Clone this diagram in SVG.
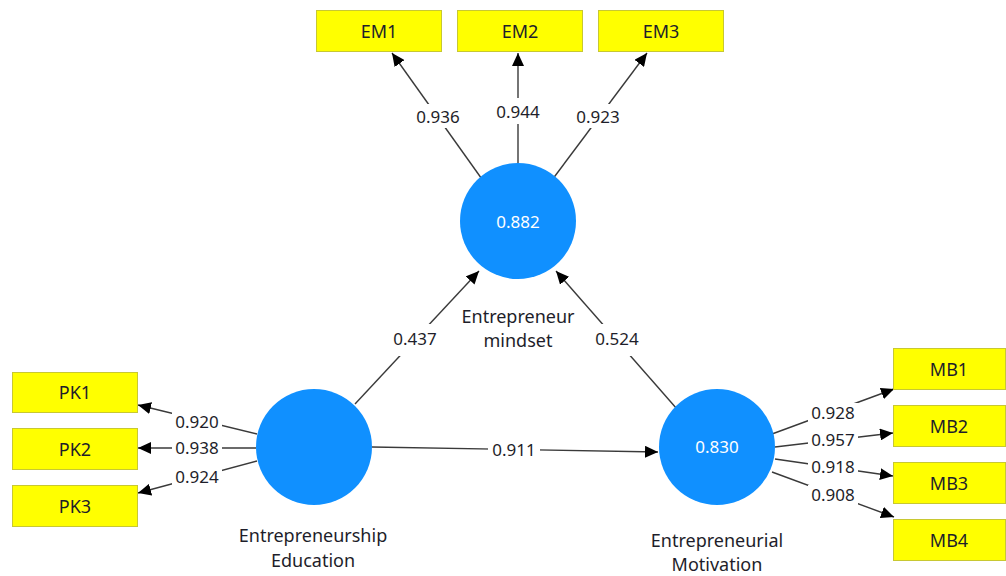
<svg xmlns="http://www.w3.org/2000/svg" width="1006" height="576" viewBox="0 0 1006 576">
<defs>
<marker id="ah" markerUnits="userSpaceOnUse" markerWidth="14" markerHeight="12" refX="13" refY="6" orient="auto">
<path d="M0,0 L13,6 L0,12 z" fill="#000"/>
</marker>
<style>
.ln{stroke:#3a3a3a;stroke-width:1.4;fill:none;marker-end:url(#ah)}
.box{fill:#ffff00;stroke:#c8c832;stroke-width:1}
.lv{fill:#1090ff}
.t{font-family:"Noto Sans","Open Sans","DejaVu Sans",sans-serif;font-size:17px;fill:#1e1e2a;text-anchor:middle}
.n{font-size:18px}
.w{fill:#ffffff}
.bg{fill:#ffffff}
</style>
</defs>
<rect width="1006" height="576" fill="#ffffff"/>
<g id="connectors">
<line class="ln" x1="484" y1="182" x2="392" y2="53"/>
<line class="ln" x1="518" y1="163" x2="518" y2="53"/>
<line class="ln" x1="552" y1="180" x2="647" y2="53"/>
<line class="ln" x1="257" y1="434" x2="138" y2="405"/>
<line class="ln" x1="256" y1="448" x2="138" y2="448"/>
<line class="ln" x1="257" y1="461" x2="138" y2="493"/>
<line class="ln" x1="772" y1="434" x2="894" y2="389"/>
<line class="ln" x1="775" y1="447" x2="893" y2="433"/>
<line class="ln" x1="775" y1="459" x2="893" y2="476"/>
<line class="ln" x1="772" y1="472" x2="894" y2="517"/>
<line class="ln" x1="355" y1="404" x2="479" y2="271"/>
<line class="ln" x1="677" y1="409" x2="556" y2="271"/>
<line class="ln" x1="372" y1="447" x2="658" y2="452"/>
<g id="connector-labels">
<rect class="bg" x="413" y="104" width="50" height="24"/><text class="t" x="438" y="123">0.936</text>
<rect class="bg" x="493" y="98" width="50" height="26"/><text class="t" x="518" y="118">0.944</text>
<rect class="bg" x="573" y="104" width="50" height="24"/><text class="t" x="598" y="123">0.923</text>
<rect class="bg" x="172" y="412" width="50" height="20"/><text class="t" x="197" y="428">0.920</text>
<rect class="bg" x="172" y="438" width="50" height="20"/><text class="t" x="197" y="454">0.938</text>
<rect class="bg" x="172" y="467" width="50" height="20"/><text class="t" x="197" y="483">0.924</text>
<rect class="bg" x="808" y="403" width="50" height="20"/><text class="t" x="833" y="419">0.928</text>
<rect class="bg" x="808" y="430" width="50" height="20"/><text class="t" x="833" y="446">0.957</text>
<rect class="bg" x="808" y="457" width="50" height="20"/><text class="t" x="833" y="473">0.918</text>
<rect class="bg" x="808" y="485" width="50" height="20"/><text class="t" x="833" y="501">0.908</text>
<rect class="bg" x="390" y="324" width="50" height="32"/><text class="t" x="415" y="345">0.437</text>
<rect class="bg" x="592" y="324" width="50" height="32"/><text class="t" x="617" y="345">0.524</text>
<rect class="bg" x="488" y="440" width="52" height="22"/><text class="t" x="514" y="456">0.911</text>
</g>
</g>
<g id="EM1"><rect class="box" x="316.5" y="10.5" width="125" height="41"/><text class="t n" x="379" y="38">EM1</text></g>
<g id="EM2"><rect class="box" x="457.5" y="10.5" width="125" height="41"/><text class="t n" x="520" y="38">EM2</text></g>
<g id="EM3"><rect class="box" x="598.5" y="10.5" width="125" height="41"/><text class="t n" x="661" y="38">EM3</text></g>
<g id="PK1"><rect class="box" x="12.5" y="372.5" width="125" height="40"/><text class="t n" x="75" y="399">PK1</text></g>
<g id="PK2"><rect class="box" x="12.5" y="428.5" width="125" height="41"/><text class="t n" x="75" y="456">PK2</text></g>
<g id="PK3"><rect class="box" x="12.5" y="485.5" width="125" height="41"/><text class="t n" x="75" y="513">PK3</text></g>
<g id="MB1"><rect class="box" x="893.5" y="348.5" width="112" height="41"/><text class="t n" x="949" y="376">MB1</text></g>
<g id="MB2"><rect class="box" x="893.5" y="405.5" width="112" height="41"/><text class="t n" x="949" y="433">MB2</text></g>
<g id="MB3"><rect class="box" x="893.5" y="462.5" width="112" height="41"/><text class="t n" x="949" y="490">MB3</text></g>
<g id="MB4"><rect class="box" x="893.5" y="519.5" width="112" height="41"/><text class="t n" x="949" y="547">MB4</text></g>
<g id="EntrepreneurMindset">
<circle class="lv" cx="518" cy="221" r="58"/>
<text class="t w" x="518" y="228">0.882</text>
<text class="t n" x="518" y="323">Entrepreneur</text>
<text class="t n" x="518" y="347">mindset</text>
</g>
<g id="EntrepreneurshipEducation">
<circle class="lv" cx="314" cy="447" r="58"/>
<text class="t n" x="313" y="542">Entrepreneurship</text>
<text class="t n" x="313" y="567">Education</text>
</g>
<g id="EntrepreneurialMotivation">
<circle class="lv" cx="717" cy="447" r="58"/>
<text class="t w" x="717" y="453">0.830</text>
<text class="t n" x="717" y="547">Entrepreneurial</text>
<text class="t n" x="717" y="571">Motivation</text>
</g>
</svg>
